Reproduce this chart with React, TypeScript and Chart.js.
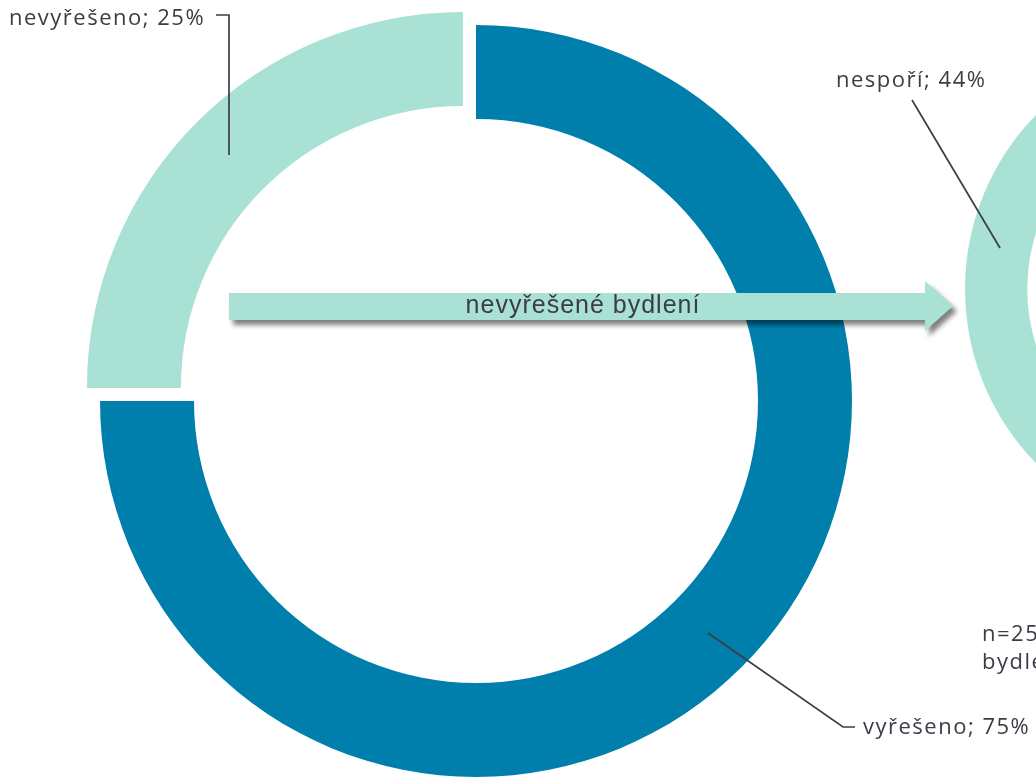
import React, { useEffect, useRef } from 'react';
import { Chart, registerables } from 'chart.js';

Chart.register(...registerables);

// ---- data ----
const mainCategories = ['vyřešeno', 'nevyřešeno'];
const mainValues = [75, 25];
const sideCategories = ['spoří', 'nespoří'];
const sideValues = [56, 44];
const arrowLabel = 'nevyřešené bydlení';
const noteLines = ['n=25', 'bydlení'];

// ---- styles ----
const DARK = '#007fad';
const LIGHT = '#a9e1d5';
const TEXT = '#3c3c46';
const LABEL_FONT = '22px "Open Sans", sans-serif';
const LABEL_SPACING = '1.5px';
const ARROW_FONT = '25px "Liberation Sans Narrow", "Liberation Sans", sans-serif';
const ARROW_SPACING = '1px';
const EXPLODE = [0, 18.5];

// Draw arcs with an explode shift along the mid-angle (without enlarging radius)
const explodePlugin = {
  id: 'explodePlugin',
  beforeDatasetsDraw(chart: any) {
    const ctx: CanvasRenderingContext2D = chart.ctx;
    const meta = chart.getDatasetMeta(0);
    meta.data.forEach((arc: any, i: number) => {
      const shift = EXPLODE[i] || 0;
      const mid = (arc.startAngle + arc.endAngle) / 2;
      ctx.save();
      ctx.translate(Math.cos(mid) * shift, Math.sin(mid) * shift);
      arc.draw(ctx);
      ctx.restore();
    });
    return false;
  },
};

const annotationPlugin = {
  id: 'annotationPlugin',
  afterDraw(chart: any) {
    const ctx: any = chart.ctx;
    ctx.save();

    // arrow with shadow
    ctx.save();
    ctx.shadowColor = 'rgba(0,0,0,0.5)';
    ctx.shadowBlur = 5;
    ctx.shadowOffsetX = 4;
    ctx.shadowOffsetY = 5;
    ctx.fillStyle = LIGHT;
    ctx.beginPath();
    ctx.moveTo(229, 293);
    ctx.lineTo(925, 293);
    ctx.lineTo(925, 281);
    ctx.lineTo(953, 306);
    ctx.lineTo(925, 331);
    ctx.lineTo(925, 320);
    ctx.lineTo(229, 320);
    ctx.closePath();
    ctx.fill();
    ctx.restore();

    ctx.fillStyle = TEXT;
    ctx.textBaseline = 'middle';
    ctx.font = ARROW_FONT;
    ctx.letterSpacing = ARROW_SPACING;
    ctx.textAlign = 'center';
    ctx.fillText(arrowLabel, 583, 306);

    // leader lines
    ctx.strokeStyle = TEXT;
    ctx.lineWidth = 1.7;
    ctx.beginPath();
    ctx.moveTo(216, 15);
    ctx.lineTo(229, 15);
    ctx.lineTo(229, 155);
    ctx.stroke();

    ctx.beginPath();
    ctx.moveTo(708, 633);
    ctx.lineTo(843, 727);
    ctx.lineTo(855, 727);
    ctx.stroke();

    ctx.beginPath();
    ctx.moveTo(912, 100);
    ctx.lineTo(1000, 248);
    ctx.stroke();

    // labels
    ctx.font = LABEL_FONT;
    ctx.letterSpacing = LABEL_SPACING;
    ctx.textAlign = 'left';
    ctx.fillText(`${mainCategories[1]}; ${mainValues[1]}%`, 9, 19);
    ctx.fillText(`${mainCategories[0]}; ${mainValues[0]}%`, 863, 728);
    ctx.fillText(`${sideCategories[1]}; ${sideValues[1]}%`, 836, 81);
    ctx.fillText(noteLines[0], 982, 635);
    ctx.fillText(noteLines[1], 982, 663);

    ctx.restore();
  },
};

export default function App() {
  const mainRef = useRef<HTMLCanvasElement>(null);
  const sideRef = useRef<HTMLCanvasElement>(null);

  useEffect(() => {
    document.body.style.margin = '0';
    document.body.style.overflow = 'hidden';

    const side = new Chart(sideRef.current as HTMLCanvasElement, {
      type: 'doughnut',
      data: {
        labels: sideCategories,
        datasets: [
          {
            data: sideValues,
            backgroundColor: [DARK, LIGHT],
            borderWidth: 0,
            hoverOffset: 0,
          },
        ],
      },
      options: {
        responsive: false,
        animation: false,
        events: [],
        radius: 249,
        cutout: '75%',
        plugins: { legend: { display: false }, tooltip: { enabled: false } },
      } as any,
    });

    const main = new Chart(mainRef.current as HTMLCanvasElement, {
      type: 'doughnut',
      data: {
        labels: mainCategories,
        datasets: [
          {
            data: mainValues,
            backgroundColor: [DARK, LIGHT],
            borderWidth: 0,
            hoverOffset: 0,
          },
        ],
      },
      options: {
        responsive: false,
        animation: false,
        events: [],
        radius: 376,
        cutout: '75%',
        layout: { padding: { left: 76, right: 160, top: 1, bottom: 1 } },
        plugins: { legend: { display: false }, tooltip: { enabled: false } },
      } as any,
      plugins: [explodePlugin, annotationPlugin],
    });

    return () => {
      main.destroy();
      side.destroy();
    };
  }, []);

  return (
    <div style={{ position: 'relative', width: 1036, height: 777, overflow: 'hidden', background: '#fff' }}>
      <canvas
        ref={sideRef}
        width={520}
        height={520}
        style={{ position: 'absolute', left: 954, top: 29 }}
      />
      <canvas
        ref={mainRef}
        width={1036}
        height={802}
        style={{ position: 'absolute', left: 0, top: 0 }}
      />
    </div>
  );
}
